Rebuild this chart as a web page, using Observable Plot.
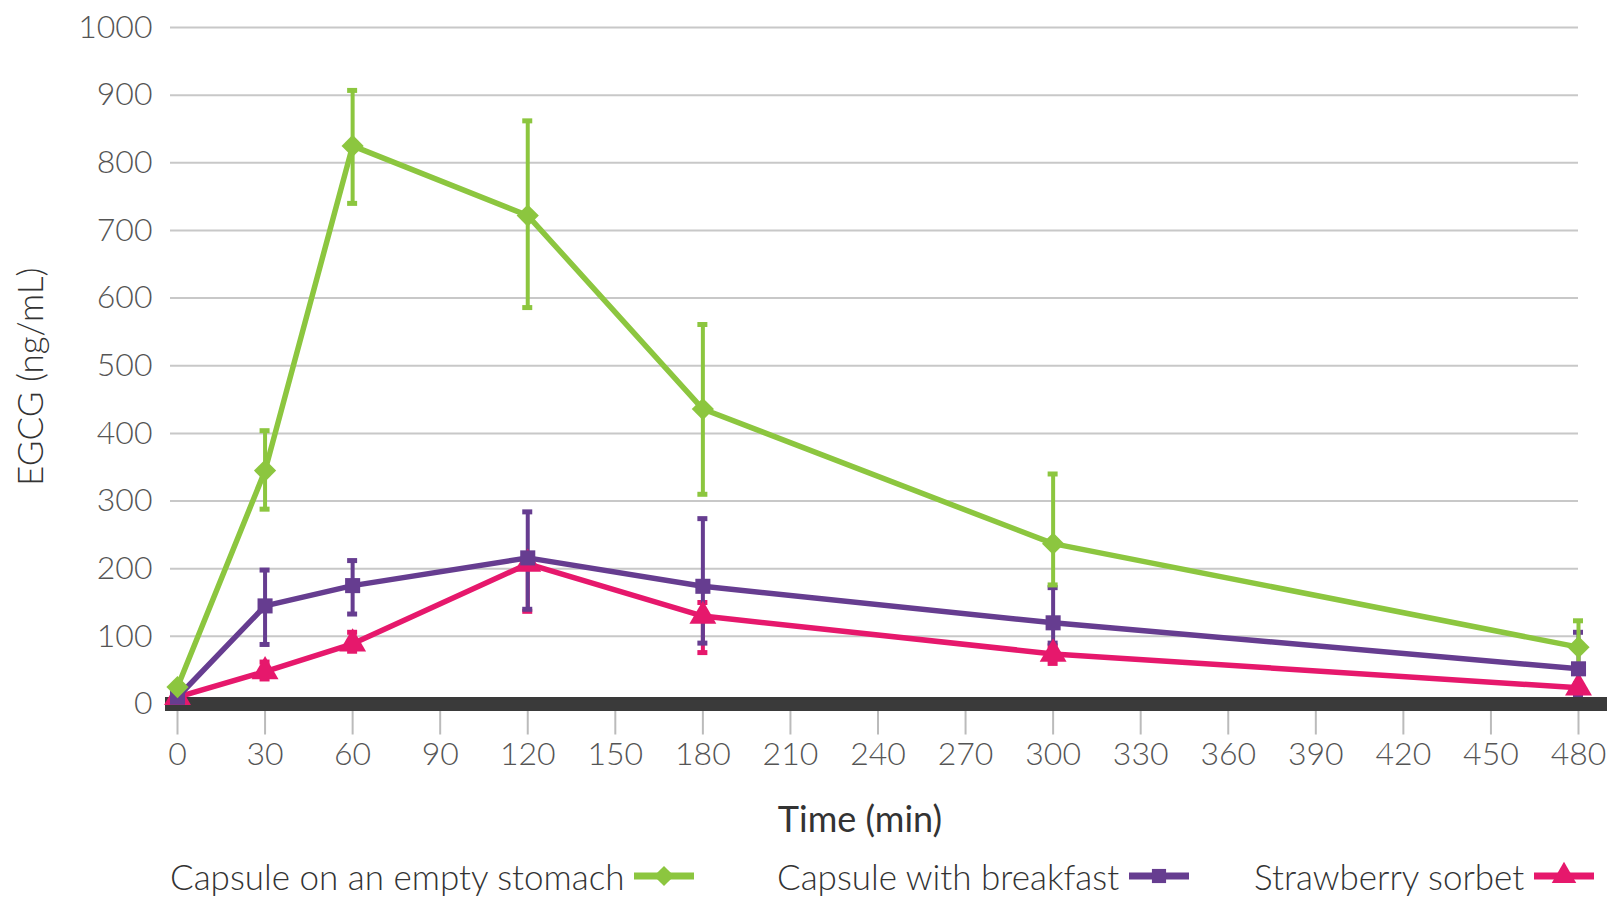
<!DOCTYPE html>
<html>
<head>
<meta charset="utf-8">
<script src="https://cdn.jsdelivr.net/npm/d3@7"></script>
<script src="https://cdn.jsdelivr.net/npm/@observablehq/plot@0.6"></script>
<style>
  html, body { margin: 0; padding: 0; background: #fff; }
  #wrap { position: relative; width: 1617px; height: 899px; overflow: hidden; }
  #legend { position: absolute; left: 0; top: 854px; width: 1617px; height: 44px; font-family: Lato, sans-serif; font-weight: 300; font-size: 35px; color: #333; }
  .item { position: absolute; top: 0; height: 44px; display: flex; align-items: center; white-space: nowrap; }
  .item svg { margin-left: 10px; }
</style>
</head>
<body>
<div id="wrap"><div id="chart"></div><div id="legend"></div></div>
<script>
const times = [0, 30, 60, 120, 180, 300, 480];
const seriesNames = ["Capsule on an empty stomach", "Capsule with breakfast", "Strawberry sorbet"];
const seriesColors = ["#8cc63f", "#663d90", "#e6186c"];
const seriesSymbols = ["diamond2", "square", "triangle"];

const emptyMean  = [25, 345, 825, 722, 436, 237, 84];
const emptyUpper = [null, 404, 907, 862, 561, 340, 123];
const emptyLower = [null, 288, 740, 586, 310, 176, 46];

const breakfastMean  = [10, 145, 175, 216, 174, 120, 52];
const breakfastUpper = [null, 198, 212, 284, 274, 172, 106];
const breakfastLower = [null, 88, 133, 140, 90, 90, 14];

const sorbetMean  = [10, 48, 89, 207, 130, 74, 24];
const sorbetUpper = [null, 62, 106, 222, 150, 86, 30];
const sorbetLower = [null, 37, 78, 137, 76, 60, 18];

const xTicks = [0, 30, 60, 90, 120, 150, 180, 210, 240, 270, 300, 330, 360, 390, 420, 450, 480];
const yTicks = [0, 100, 200, 300, 400, 500, 600, 700, 800, 900, 1000];

const seriesValues = [
  [emptyMean, emptyUpper, emptyLower],
  [breakfastMean, breakfastUpper, breakfastLower],
  [sorbetMean, sorbetUpper, sorbetLower]
];

function rows(i) {
  const [m, u, l] = seriesValues[i];
  return times.map((t, k) => ({time: t, value: m[k], hi: u[k], lo: l[k], series: seriesNames[i]}));
}

const drawOrder = [2, 1, 0];
const seriesMarks = [];
for (const i of drawOrder) {
  const data = rows(i);
  const bars = data.filter(d => d.hi != null);
  const c = seriesColors[i];
  seriesMarks.push(
    Plot.ruleX(bars, {x: "time", y1: "lo", y2: "hi", stroke: c, strokeWidth: 4}),
    Plot.ruleY(bars, {y: "hi", x1: "time", x2: "time", insetLeft: -5, insetRight: -5, stroke: c, strokeWidth: 5}),
    Plot.ruleY(bars, {y: "lo", x1: "time", x2: "time", insetLeft: -5, insetRight: -5, stroke: c, strokeWidth: 5})
  );
}
for (const i of drawOrder) {
  const data = rows(i);
  const c = seriesColors[i];
  seriesMarks.push(
    Plot.line(data, {x: "time", y: "value", stroke: c, strokeWidth: 5.5, strokeLinejoin: "round"}),
    Plot.dot(data, {x: "time", y: "value", fill: c, stroke: "none", symbol: () => seriesSymbols[i], r: seriesSymbols[i] === "square" ? 8.5 : 10})
  );
}

const chart = Plot.plot({
  width: 1617,
  height: 840,
  marginLeft: 177,
  marginRight: 39,
  marginTop: 27,
  marginBottom: 136.5,
  style: {fontFamily: "Lato, sans-serif", fontSize: "32px", background: "white", color: "#555"},
  x: {domain: [0, 480], ticks: xTicks, label: null},
  y: {domain: [0, 1000], ticks: yTicks, label: null},
  symbol: {type: "identity"},
  marks: [
    Plot.ruleY(yTicks.filter(d => d > 0), {stroke: "#c8c8c8", strokeWidth: 2, insetLeft: -7}),
    Plot.axisY({ticks: yTicks, tickFormat: d => String(d), tickSize: 0, tickPadding: 25, label: null, fill: "#555", fontWeight: 300}),
    Plot.axisX({ticks: xTicks, tickFormat: d => String(d), tickSize: 31, tickPadding: 7, stroke: "#bbb", strokeWidth: 2, label: null, fill: "#555", fontWeight: 300}),
    Plot.ruleY([0], {stroke: "#3a3a3a", strokeWidth: 14, insetLeft: -12, insetRight: -29}),
    ...seriesMarks,
    Plot.text(["EGCG (ng/mL)"], {frameAnchor: "left", textAnchor: "middle", rotate: -90, dx: -146, dy: 11, fontSize: 35, fill: "#333", fontWeight: 300}),
    Plot.text(["Time (min)"], {frameAnchor: "bottom", textAnchor: "middle", dx: -18, dy: 128, fontSize: 36, fill: "#333", fontWeight: 400})
  ]
});
document.getElementById("chart").appendChild(chart);

// Legend
const legendLefts = [170, 777, 1254];
const legend = d3.select("#legend");
seriesNames.forEach((name, i) => {
  const item = legend.append("div").attr("class", "item").style("left", legendLefts[i] + "px");
  item.append("span").text(name);
  const svg = item.append("svg").attr("width", 60).attr("height", 30);
  svg.append("line").attr("x1", 0).attr("x2", 60).attr("y1", 15).attr("y2", 15)
    .attr("stroke", seriesColors[i]).attr("stroke-width", 7);
  const symMap = {diamond2: d3.symbolDiamond2, square: d3.symbolSquare, triangle: d3.symbolTriangle};
  const size = seriesSymbols[i] === "square" ? 200 : 260;
  svg.append("path").attr("transform", "translate(30,15)")
    .attr("d", d3.symbol(symMap[seriesSymbols[i]], size)())
    .attr("fill", seriesColors[i]);
});
</script>
</body>
</html>
